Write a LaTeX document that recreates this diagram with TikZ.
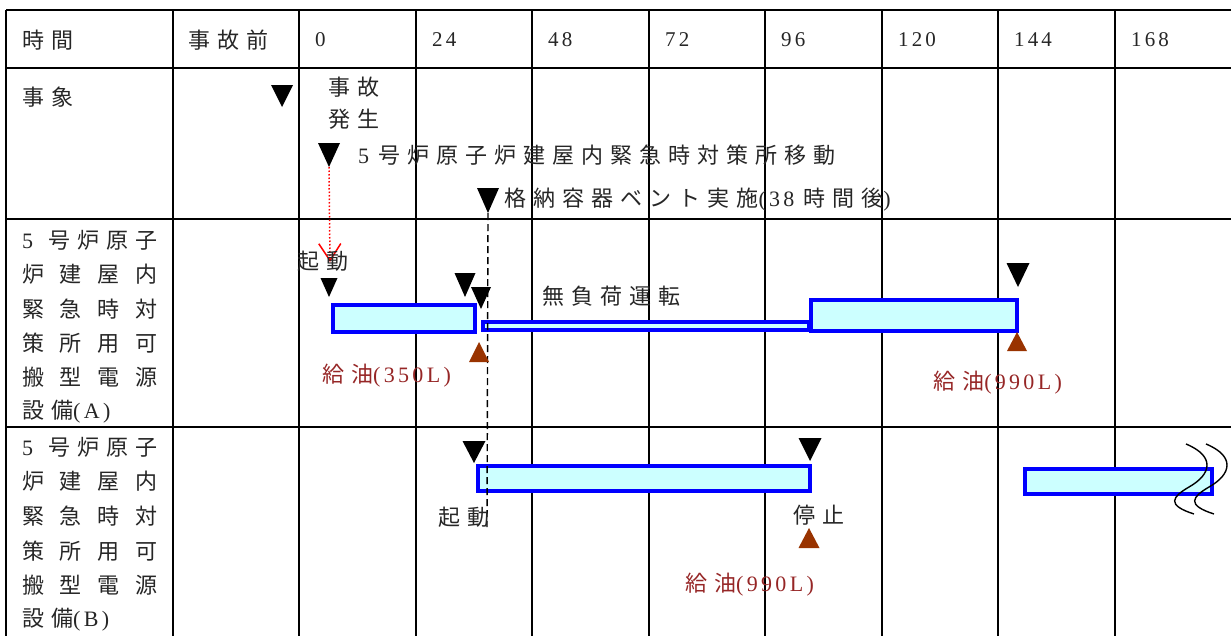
\documentclass[tikz,border=0pt]{standalone}
\usepackage{fontspec}
\setmainfont{Noto Sans CJK JP}[LetterSpace=32]
\newfontfamily\numfont{Liberation Serif}[LetterSpace=15]
\usetikzlibrary{shapes.geometric, arrows.meta, positioning}

\definecolor{barfill}{RGB}{204,255,255}
\definecolor{oilred}{RGB}{150,38,38}
\definecolor{oilbrown}{RGB}{153,51,0}

\begin{document}
\begin{tikzpicture}[x=1pt, y=-1pt, >={Straight Barb[length=17pt, width=22pt]},
    grid/.style = {line width=1.8pt},
    bar/.style = {draw=blue, line width=3.5pt, fill=barfill, inner sep=0pt, anchor=north west},
    dn/.style = {isosceles triangle, isosceles triangle stretches, shape border rotate=270, fill=black, inner sep=0pt, outer sep=0pt, minimum width=22pt, minimum height=22pt, anchor=apex},
    up/.style = {dn, shape border rotate=90, fill=oilbrown, minimum width=20pt, minimum height=20pt},
    txt/.style = {anchor=west, inner sep=0pt, text=black!85, font=\fontsize{22}{26}\selectfont},
    oil/.style = {txt, text=oilred},
    num/.style = {txt, font=\fontsize{21}{26}\selectfont\numfont},
    cell/.style = {txt, text width=135pt},
    brk/.style = {line width=1.4pt}]
    \useasboundingbox (0,0) rectangle (1231,635);
    \clip (0,0) rectangle (1231,635);

    % table
    \foreach \x in {6,173,299,416,532,649,765,882,998,1115}
        \draw[grid] (\x,10) -- (\x,640);
    \foreach \y in {10,68,219,427}
        \draw[grid] (6,\y) -- (1240,\y);

    % header
    \node[txt] (hTime) at (22,40) {時間};
    \node[txt] (hPre) at (188,40) {事故前};
    \foreach \h/\x in {0/299,24/416,48/532,72/649,96/765,120/882,144/998,168/1115}
        \node[num] (h\h) at (\x+16,40) {\h};

    % row labels
    \node[txt] (event) at (22,97) {事象};
    \foreach \t [count=\i from 0] in {{{\numfont 5}\hfill 号炉原子}, {炉\hfill 建\hfill 屋\hfill 内}, {緊\hfill 急\hfill 時\hfill 対}, {策\hfill 所\hfill 用\hfill 可}, {搬\hfill 型\hfill 電\hfill 源}, {設備{\numfont (A)}}}
        \node[cell] (devA\i) at (22,{240+34.4*\i}) {\t};
    \foreach \t [count=\i from 0] in {{{\numfont 5}\hfill 号炉原子}, {炉\hfill 建\hfill 屋\hfill 内}, {緊\hfill 急\hfill 時\hfill 対}, {策\hfill 所\hfill 用\hfill 可}, {搬\hfill 型\hfill 電\hfill 源}, {設備{\numfont (B)}}}
        \node[cell] (devB\i) at (22,{447+34.6*\i}) {\t};

    % events
    \node[txt, align=left, font=\fontsize{22}{32}\selectfont] (occur) at (328,103) {事故\\発生};
    \node[txt] (move) at (358,155) {{\numfont 5 }号炉原子炉建屋内緊急時対策所移動};
    \node[txt] (vent) at (504,200) {格納容器ベント実施{\numfont (38 }時間後{\numfont )}};
    \node[dn] (triPre) at (282,107) {};
    \node[dn, minimum height=24pt] (triMove) at (329,167) {};
    \node[dn, minimum height=25pt] (triVent) at (488,213) {};

    % operation bars
    \node[bar, minimum width=142pt, minimum height=27pt] (barA1) at (331,303) {};
    \node[bar, minimum width=326pt, minimum height=8pt] (barA2) at (481,320) {};
    \node[bar, minimum width=206pt, minimum height=31pt] (barA3) at (809,298) {};
    \node[bar, minimum width=332pt, minimum height=25pt] (barB1) at (476,464) {};
    \node[bar, minimum width=187pt, minimum height=25pt] (barB2) at (1023,467) {};

    \coordinate (ventEnd) at (487,527);
    \draw[line width=1.4pt, dash pattern=on 7pt off 4pt] (triVent.apex) -- (ventEnd);

    \coordinate (redEnd) at (330,262);
    \draw[->, red, dotted, line width=1.5pt] (triMove.apex) -- (redEnd);

    % generator A
    \node[txt] (startA) at (297,261) {起動};
    \node[txt] (noload) at (542,296) {無負荷運転};
    \node[dn, minimum width=17pt, minimum height=19pt] (triA0) at (329,297) {};
    \node[dn, minimum width=21pt, minimum height=24pt] (triA1) at (465,297) {};
    \node[dn, minimum width=20pt, minimum height=22pt] (triA2) at (481,309) {};
    \node[dn, minimum width=23pt, minimum height=24pt] (triA3) at (1018,287) {};
    \node[up] (oilTriA1) at (479,342) {};
    \node[up, minimum height=19pt] (oilTriA2) at (1017,332) {};
    \node[oil] (oilA1) at (322,376) {給油{\numfont (350L)}};
    \node[oil] (oilA2) at (933,383) {給油{\numfont (990L)}};

    % generator B
    \node[dn, minimum width=23pt] (triB0) at (474,463) {};
    \node[dn, minimum width=23pt, minimum height=23pt] (triB1) at (810,461) {};
    \node[up, minimum width=21pt] (oilTriB) at (809,528) {};
    \node[txt] (startB) at (438,517) {起動};
    \node[txt] (stopB) at (793,515) {停止};
    \node[oil] (oilB) at (685,585) {給油{\numfont (990L)}};

    % break mark
    \foreach \dx in {0,20}
        \draw[brk] ({1186+\dx},444) .. controls ({1215+\dx},456) and ({1212+\dx},474) .. ({1189+\dx},487)
            .. controls ({1172+\dx},497) and ({1166+\dx},505) .. ({1194+\dx},514);
\end{tikzpicture}
\end{document}
